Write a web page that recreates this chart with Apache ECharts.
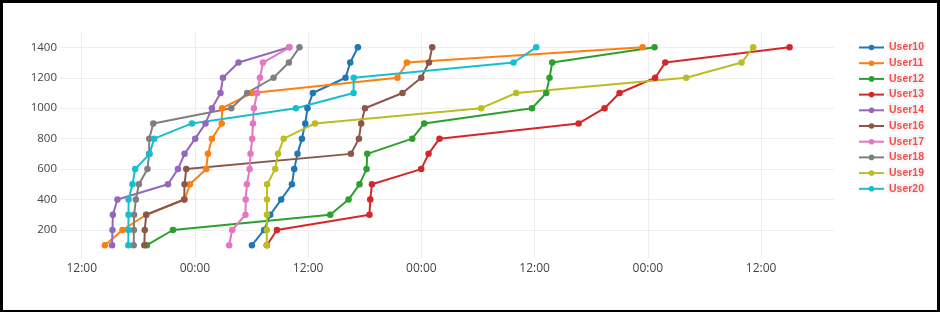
<!DOCTYPE html>
<html>
<head>
<meta charset="utf-8">
<script src="https://cdn.jsdelivr.net/npm/echarts@6/dist/echarts.min.js"></script>
<style>
  html, body { margin: 0; padding: 0; background: #fff; }
  #chart { position: absolute; left: 0; top: 0; width: 940px; height: 312px; }
  #frame { position: absolute; left: 0; top: 0; width: 940px; height: 312px; box-sizing: border-box;
           border-style: solid; border-color: #000; border-width: 3px 3px 2px 3px; pointer-events: none; }
</style>
</head>
<body>
<div id="chart"></div>
<div id="frame"></div>
<script>
// Hours since 00:00 of the first day
const scores = [100, 200, 300, 400, 500, 600, 700, 800, 900, 1000, 1100, 1200, 1300, 1400];

const user10 = [30.04, 31.34, 31.98, 33.14, 34.28, 34.52, 34.87, 35.34, 35.69, 35.93, 36.50, 39.96, 40.46, 41.27];
const user11 = [14.46, 16.32, 18.84, 22.90, 23.47, 25.20, 25.38, 25.80, 26.84, 26.88, 30.07, 45.47, 46.47, 71.44];
const user12 = [18.91, 21.67, 38.34, 40.28, 41.44, 42.19, 42.26, 47.03, 48.30, 59.72, 61.23, 61.58, 61.87, 72.71];
const user13 = [31.63, 32.69, 42.50, 42.58, 42.76, 47.98, 48.76, 49.92, 64.66, 67.41, 69.00, 72.78, 73.85, 87.02];
const user14 = [15.22, 15.26, 15.30, 15.79, 21.14, 22.20, 22.90, 24.03, 25.12, 25.80, 26.71, 26.97, 28.62, 33.99];
const user16 = [18.64, 18.68, 18.84, 22.86, 22.90, 23.08, 40.53, 41.38, 41.62, 42.02, 46.00, 47.98, 48.80, 49.15];
const user17 = [27.63, 27.95, 29.36, 29.38, 29.51, 29.79, 29.89, 30.07, 30.15, 30.25, 30.60, 30.89, 31.21, 34.02];
const user18 = [17.51, 17.53, 17.55, 17.74, 18.06, 18.97, 19.15, 19.16, 19.58, 27.85, 29.54, 32.33, 33.96, 35.08];
const user19 = [31.61, 31.62, 31.63, 31.64, 31.65, 32.51, 32.80, 33.41, 36.72, 54.34, 58.05, 76.07, 81.93, 83.17];
const user20 = [16.94, 16.95, 16.96, 16.97, 17.38, 17.67, 19.19, 19.68, 23.68, 34.70, 40.81, 40.83, 57.77, 60.17];

const userNames = ['User10', 'User11', 'User12', 'User13', 'User14', 'User16', 'User17', 'User18', 'User19', 'User20'];
const userTimes = [user10, user11, user12, user13, user14, user16, user17, user18, user19, user20];
const colors = ['#1f77b4', '#ff7f0e', '#2ca02c', '#d62728', '#9467bd', '#8c564b', '#e377c2', '#7f7f7f', '#bcbd22', '#17becf'];

const xMin = 9.7, xMax = 91.73;
const yMin = 16, yMax = 1494;

const chart = echarts.init(document.getElementById('chart'), null, { renderer: 'canvas' });

const series = userNames.map((name, k) => ({
  name: name,
  type: 'line',
  data: userTimes[k].map((h, i) => [h, scores[i]]),
  symbol: 'circle',
  symbolSize: 6.5,
  showSymbol: true,
  showAllSymbol: true,
  itemStyle: { color: colors[k] },
  lineStyle: { color: colors[k], width: 2 },
  emphasis: { disabled: true },
  animation: false
}));

chart.setOption({
  animation: false,
  color: colors,
  grid: { left: 60, right: 106, top: 33, bottom: 54, containLabel: false },
  legend: {
    orient: 'vertical',
    left: 853,
    top: 36,
    itemWidth: 25,
    itemHeight: 7,
    itemGap: 2.7,
    data: userNames,
    textStyle: {
      color: '#f05050',
      fontWeight: 'bold',
      fontSize: 10.5,
      fontFamily: 'Liberation Sans, Arial, sans-serif',
      textBorderColor: '#fff',
      textBorderWidth: 2,
      textShadowColor: 'rgba(0,0,0,0.12)',
      textShadowBlur: 3
    }
  },
  xAxis: {
    type: 'value',
    min: xMin,
    max: xMax,
    minInterval: 12,
    maxInterval: 12,
    splitNumber: 7,
    axisLine: { show: false },
    axisTick: { show: false },
    splitLine: { show: true, showMinLine: false, showMaxLine: false, lineStyle: { color: '#eeeeee', width: 1 } },
    axisLabel: {
      showMinLabel: false,
      showMaxLabel: false,
      margin: 5,
      color: '#444',
      fontSize: 12,
      fontFamily: 'Open Sans, sans-serif',
      formatter: function (v) {
        const r = ((Math.round(v) % 24) + 24) % 24;
        return r === 12 ? '12:00' : '00:00';
      }
    }
  },
  yAxis: {
    type: 'value',
    min: yMin,
    max: yMax,
    minInterval: 200,
    maxInterval: 200,
    splitNumber: 7,
    axisLine: { show: false },
    axisTick: { show: false },
    splitLine: { show: true, showMinLine: false, showMaxLine: false, lineStyle: { color: '#eeeeee', width: 1 } },
    axisLabel: {
      showMinLabel: false,
      showMaxLabel: false,
      margin: 3,
      color: '#444',
      fontSize: 11.5,
      fontFamily: 'Open Sans, sans-serif',
      formatter: function (v) { return String(Math.round(v)); }
    }
  },
  series: series
});
</script>
</body>
</html>
